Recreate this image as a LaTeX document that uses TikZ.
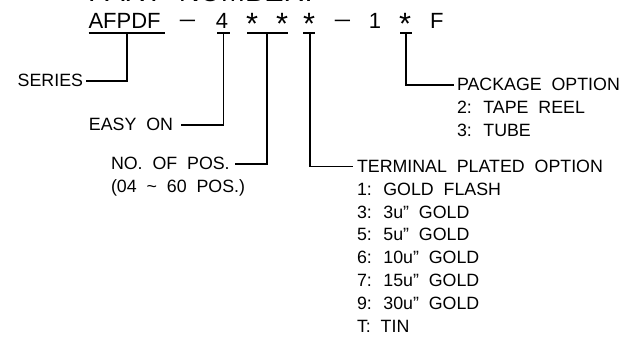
\documentclass[tikz,border=0pt]{standalone}
\usepackage{fontspec}
\setmainfont{Liberation Sans}[WordSpace=2.0]
\newcommand{\bigstar}{\raisebox{-6.0pt}{\scalebox{1.4}{*}}}
\newcommand{\cadash}{\raisebox{2.8pt}{\scalebox{1.25}[1]{–}}}
\begin{document}
\begin{tikzpicture}[x=1pt,y=-1pt,
  ln/.style={line width=1.3pt, line cap=butt, line join=miter},
  lbl/.style={inner sep=0pt, outer sep=0pt, font=\fontsize{17.8}{20}\selectfont},
  pn/.style={inner sep=0pt, outer sep=0pt, font=\fontsize{22}{26}\selectfont}]
\useasboundingbox (0,0) rectangle (641,342);
\clip (0,0) rectangle (641,342);
% title (cut off at the top)
\node[inner sep=0pt, anchor=base west, font=\fontsize{29}{32}\selectfont] (title) at (88,1.8) {PART NUMBER:};
% part number
\node[pn, anchor=base west] (afpdf) at (88.5,29) {AFPDF};
\node[pn, anchor=base] (d1) at (187.5,29) {\cadash};
\node[pn, anchor=base] (four) at (222,29) {4};
\node[pn, anchor=base] (s1) at (252,29) {\bigstar};
\node[pn, anchor=base] (s2) at (282,29) {\bigstar};
\node[pn, anchor=base] (s3) at (309,29) {\bigstar};
\node[pn, anchor=base] (d2) at (342.5,29) {\cadash};
\node[pn, anchor=base] (one) at (375,29) {1};
\node[pn, anchor=base] (s4) at (405,29) {\bigstar};
\node[pn, anchor=base west] (ef) at (430,29) {F};
% underlines
\draw[ln] (88.5,33) -- (165,33);
\draw[ln] (217,33) -- (230,33);
\draw[ln] (247,33) -- (288,33);
\draw[ln] (303,33) -- (314.5,33);
\draw[ln] (400,33) -- (412,33);
\coordinate (j1) at (127,33);
\coordinate (j2) at (223.5,33);
\coordinate (j3) at (267,33);
\coordinate (j4) at (310,33);
\coordinate (j5) at (406,33);
% labels
\node[lbl, anchor=base east] (series) at (83,87) {SERIES};
\node[lbl, anchor=base east] (easy) at (173,131) {EASY ON};
\node[lbl, anchor=base west] (nopos) at (111,170) {NO. OF POS.};
\node[lbl, anchor=base west] (range) at (111,193) {(04 \textasciitilde{} 60 POS.)};
\node[lbl, anchor=base west] (term) at (357,172.5) {TERMINAL PLATED OPTION};
\node[lbl, anchor=base west] (t1) at (357,195.4) {1: GOLD FLASH};
\node[lbl, anchor=base west] (t3) at (357,218.2) {3: 3u” GOLD};
\node[lbl, anchor=base west] (t5) at (357,241) {5: 5u” GOLD};
\node[lbl, anchor=base west] (t6) at (357,263.9) {6: 10u” GOLD};
\node[lbl, anchor=base west] (t7) at (357,286.8) {7: 15u” GOLD};
\node[lbl, anchor=base west] (t9) at (357,309.6) {9: 30u” GOLD};
\node[lbl, anchor=base west] (tt) at (357,332.5) {T: TIN};
\node[lbl, anchor=base west] (pkg) at (457,91) {PACKAGE OPTION};
\node[lbl, anchor=base west] (p2) at (457,114) {2: TAPE REEL};
\node[lbl, anchor=base west] (p3) at (457,137) {3: TUBE};
% leaders
\draw[ln] (j1) |- ([xshift=3pt]series.east);
\draw[ln] (j2) |- ([xshift=8pt]easy.east);
\draw[ln] (j3) |- ([xshift=5pt]nopos.east);
\draw[ln] (j4) |- ([xshift=-4pt]term.west);
\draw[ln] (j5) |- ([xshift=-3pt]pkg.west);
\end{tikzpicture}
\end{document}
